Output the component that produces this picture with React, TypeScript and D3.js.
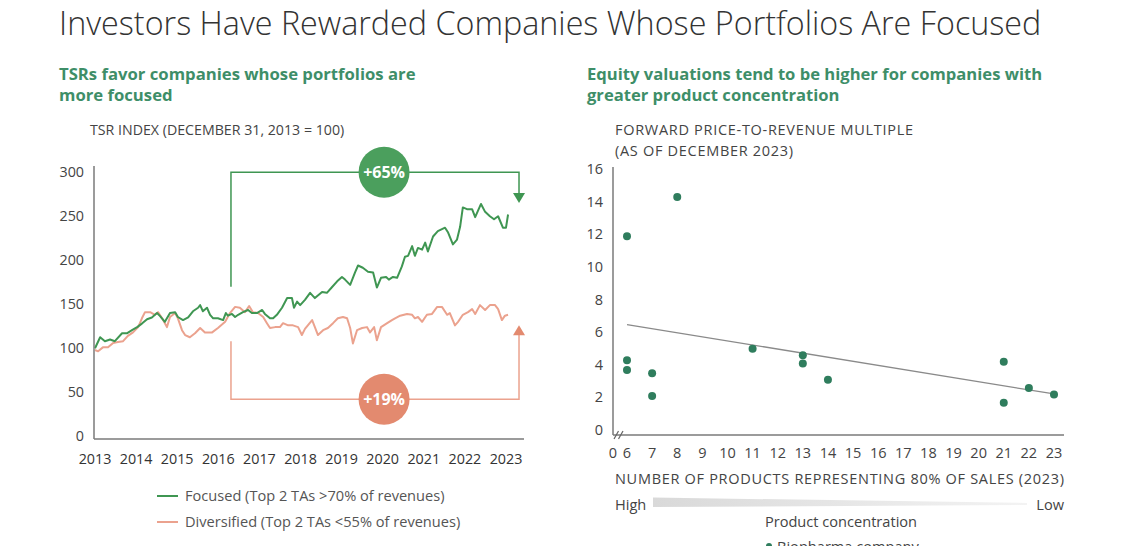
import * as d3 from "d3";

// ---------- left panel: TSR index, months since Dec 31 2013 ----------
const yearTicks = [2013, 2014, 2015, 2016, 2017, 2018, 2019, 2020, 2021, 2022, 2023];
const tsrTicks = [0, 50, 100, 150, 200, 250, 300];

const focusedMonth = [
  0, 1.5, 2.9, 4.4, 5.8, 7.9, 9.3, 10.8, 12.3, 13.7,
  15.2, 16.6, 18.1, 19, 20.4, 21.9, 23.4, 24.2, 25.7, 27.2,
  28.6, 30.1, 30.7, 31.5, 32.7, 33.6, 34.5, 35.9, 37.4, 38.2,
  38.8, 40, 40.9, 41.8, 43.2, 44.7, 45.8, 47.3, 48.8, 49.6,
  51.1, 52, 53.1, 54.6, 56.1, 57.5, 58.1, 59, 59.9, 61.3,
  62.8, 64.2, 66.3, 67.7, 69.1, 70.7, 72.1, 73, 74.5, 75.9,
  76.8, 78.2, 79.7, 81.2, 82.3, 83.5, 85, 85.8, 87, 88.2,
  89.6, 90.5, 91.4, 92.6, 93.4, 94.3, 95.5, 96.4, 97.2, 98.7,
  100.1, 102.2, 103.1, 104.5, 105.7, 106.6, 107.4, 108.6, 110.1, 111,
  112.7, 113.9, 115.3, 116.5, 117.7, 119.1, 120, 120.6,
];
const focusedTsr = [
  102, 114.5, 110, 112, 110, 119, 119, 122.5, 126, 130,
  135, 137, 142, 138.5, 132, 142, 143, 137.5, 134, 137,
  144, 148, 151, 144, 148, 140, 136, 136, 134, 142,
  139, 141, 137.5, 140, 143, 145.5, 142, 142, 145.5, 141,
  136, 136, 140, 148, 159, 159, 148, 155, 151, 157,
  165, 159, 166, 165, 171, 178, 183, 180, 174, 188,
  196, 193.5, 189, 188, 171, 182, 183, 180, 183, 182,
  195, 206, 207, 218, 207, 216, 214, 222, 212, 229,
  235, 239, 233.5, 220, 225.5, 240, 262, 260, 260, 251,
  266, 257, 252, 248.5, 252, 239, 239, 254,
];

const diversifiedMonth = [
  0, 0.9, 2.3, 3.8, 5.3, 6.7, 8.2, 9.6, 11.1, 12.6,
  13.7, 14.6, 16.1, 17.5, 18.4, 19.6, 21, 21.9, 23.4, 24.2,
  25.4, 26.3, 27.7, 29.2, 30.7, 32.1, 34.2, 35.9, 38, 39.4,
  40.9, 42.3, 43.8, 45, 46.1, 47.6, 49.1, 50.2, 51.1, 52.6,
  54, 54.9, 56.4, 57.8, 59.3, 60.4, 61.3, 63.4, 64.2, 65.1,
  66.6, 68, 69.5, 70.9, 72.4, 73.6, 74.5, 75.3, 76.5, 78,
  79.4, 80.3, 81.5, 82.3, 83.5, 85.3, 86.7, 87.6, 89.1, 91.1,
  92.6, 93.4, 94.3, 95.5, 96.9, 98.4, 99.9, 101.3, 102.8, 103.6,
  105.1, 106, 107.4, 108.9, 110.1, 111, 112.4, 113.9, 115.3, 116.8,
  117.7, 118.8, 119.7, 120.6,
];
const diversifiedTsr = [
  100, 98.5, 103, 103, 108, 109, 110, 116, 120, 126,
  136, 143, 143, 140, 143, 136, 126, 137.5, 142, 136,
  122.5, 117, 114.5, 119, 125, 120, 120, 125, 132, 142,
  149, 148, 143, 150, 143, 142, 137.5, 130.5, 125, 126,
  126, 130.5, 128, 128, 126, 117, 124, 134, 126, 117,
  122.5, 125, 130.5, 136, 137.5, 136, 125, 107.5, 122.5, 125,
  126, 120, 126, 111, 126, 130.5, 134, 136, 139, 141,
  140, 136, 137.5, 132, 140, 141, 149, 149, 140, 142,
  128, 132, 140, 143, 146.5, 141, 151, 145.5, 151, 151,
  146.5, 134, 139, 140,
];

// bracket annotations (data space: months, TSR index)
const bracketStartMonth = 39.7;
const bracketEndMonth = 123.8;
const badgeMonth = 84.4;
const focusedBracketTop = 302;
const focusedBracketLow = 172;
const focusedArrowTip = 267;
const diversifiedBracketBottom = 44;
const diversifiedBracketHigh = 110;
const diversifiedArrowTip = 128;

// ---------- right panel: products vs forward P/R multiple ----------
const multipleTicks = [0, 2, 4, 6, 8, 10, 12, 14, 16];
const productTicks = [6, 7, 8, 9, 10, 11, 12, 13, 14, 15, 16, 17, 18, 19, 20, 21, 22, 23];
const productCount = [6, 6, 6, 7, 7, 8, 11, 13, 13, 14, 21, 21, 22, 23];
const priceToRevenue = [12, 4.4, 3.8, 3.6, 2.2, 14.4, 5.1, 4.7, 4.2, 3.2, 4.3, 1.8, 2.7, 2.3];

const GREEN = "#4b9f5d";
const GREEN_LINE = "#3f9652";
const RED = "#e38a6f";
const RED_LINE = "#eba28e";
const TEAL = "#2f7d5d";
const SUB = "#3e8e68";
const TXT = "#444";
const AXIS = "#7a7a7a";
const FONT = "'Open Sans', 'Noto Sans', sans-serif";

export default function App() {
  const width = 1142;
  const height = 546;

  // left scales
  const xL = d3.scaleLinear([0, 120], [95, 506]);
  const yL = d3.scaleLinear([0, 300], [438, 174]);
  const line = d3.line<[number, number]>().x((d) => xL(d[0])).y((d) => yL(d[1]));
  const focused = focusedMonth.map((m, i) => [m, focusedTsr[i]] as [number, number]);
  const diversified = diversifiedMonth.map((m, i) => [m, diversifiedTsr[i]] as [number, number]);

  // right scales
  const xR = d3.scaleLinear([6, 23], [627, 1054]);
  const yR = d3.scaleLinear([0, 16], [432, 171]);

  // least squares trend line
  const mx = d3.mean(productCount)!;
  const my = d3.mean(priceToRevenue)!;
  const slope =
    d3.sum(productCount, (x, i) => (x - mx) * (priceToRevenue[i] - my)) /
    d3.sum(productCount, (x) => (x - mx) ** 2);
  const fit = (x: number) => my + slope * (x - mx);
  const [xMin, xMax] = d3.extent(productCount) as [number, number];

  const bx0 = xL(bracketStartMonth);
  const bx1 = xL(bracketEndMonth);
  const bcx = xL(badgeMonth);

  return (
    <svg
      width={width}
      height={height}
      style={{ position: "absolute", left: 0, top: 0, background: "#fff" }}
      fontFamily={FONT}
    >
      <defs>
        <linearGradient id="conc" x1="0" x2="1" y1="0" y2="0">
          <stop offset="0" stopColor="#d9d9d9" />
          <stop offset="1" stopColor="#f3f3f3" />
        </linearGradient>
      </defs>

      {/* title */}
      <text x={59} y={35} fontSize={32.3} fontWeight={300} fill="#333">
        Investors Have Rewarded Companies Whose Portfolios Are Focused
      </text>

      {/* ---------------- left panel ---------------- */}
      <g fill={SUB} fontSize={16.7} fontWeight={700}>
        <text x={59} y={80}>TSRs favor companies whose portfolios are</text>
        <text x={59} y={101}>more focused</text>
      </g>
      <text x={90} y={135} fontSize={14.2} fill={TXT}>
        TSR INDEX (DECEMBER 31, 2013 = 100)
      </text>

      {/* brackets */}
      <g fill="none" strokeWidth={1.5}>
        <polyline
          stroke={GREEN_LINE}
          points={`${bx0},${yL(focusedBracketLow)} ${bx0},${yL(focusedBracketTop)} ${bx1},${yL(focusedBracketTop)} ${bx1},${yL(focusedArrowTip) - 8}`}
        />
        <polyline
          stroke={RED_LINE}
          points={`${bx0},${yL(diversifiedBracketHigh)} ${bx0},${yL(diversifiedBracketBottom)} ${bx1},${yL(diversifiedBracketBottom)} ${bx1},${yL(diversifiedArrowTip) + 8}`}
        />
      </g>
      <path
        d={`M${bx1 - 6},${yL(focusedArrowTip) - 10}L${bx1 + 6},${yL(focusedArrowTip) - 10}L${bx1},${yL(focusedArrowTip)}Z`}
        fill={GREEN_LINE}
      />
      <path
        d={`M${bx1 - 6},${yL(diversifiedArrowTip) + 10}L${bx1 + 6},${yL(diversifiedArrowTip) + 10}L${bx1},${yL(diversifiedArrowTip)}Z`}
        fill={RED}
      />

      {/* series */}
      <path d={line(diversified) ?? undefined} fill="none" stroke={RED_LINE} strokeWidth={2} strokeLinejoin="round" />
      <path d={line(focused) ?? undefined} fill="none" stroke={GREEN_LINE} strokeWidth={2} strokeLinejoin="round" />

      {/* badges */}
      <circle cx={bcx} cy={yL(focusedBracketTop)} r={25.5} fill={GREEN} />
      <text x={bcx} y={yL(focusedBracketTop)} dy="0.35em" textAnchor="middle" fill="#fff" fontSize={16} fontWeight={700}>
        +65%
      </text>
      <circle cx={bcx} cy={yL(diversifiedBracketBottom)} r={25.5} fill={RED} />
      <text x={bcx} y={yL(diversifiedBracketBottom)} dy="0.35em" textAnchor="middle" fill="#fff" fontSize={16} fontWeight={700}>
        +19%
      </text>

      {/* axes */}
      <g stroke={AXIS} strokeWidth={1.5}>
        <line x1={94} x2={94} y1={166} y2={439} />
        <line x1={94} x2={524} y1={439} y2={439} />
      </g>
      <g fontSize={14.3} fill={TXT} textAnchor="end">
        {tsrTicks.map((t) => (
          <text key={t} x={84} y={yL(t) - 2} dy="0.35em">
            {t}
          </text>
        ))}
      </g>
      <g fontSize={14.3} fill="#333" textAnchor="middle">
        {yearTicks.map((yr) => (
          <text key={yr} x={xL((yr - 2013) * 12)} y={464}>
            {yr}
          </text>
        ))}
      </g>

      {/* legend */}
      <g fontSize={14.6} fill="#555">
        <line x1={157} x2={178} y1={496} y2={496} stroke={GREEN_LINE} strokeWidth={2} />
        <text x={185} y={501}>Focused (Top 2 TAs &gt;70% of revenues)</text>
        <line x1={157} x2={178} y1={522} y2={522} stroke={RED_LINE} strokeWidth={2} />
        <text x={185} y={527}>Diversified (Top 2 TAs &lt;55% of revenues)</text>
      </g>

      {/* ---------------- right panel ---------------- */}
      <g fill={SUB} fontSize={16.6} fontWeight={700}>
        <text x={587} y={80}>Equity valuations tend to be higher for companies with</text>
        <text x={587} y={101}>greater product concentration</text>
      </g>
      <g fontSize={14.5} fill={TXT} letterSpacing={0.7}>
        <text x={615} y={135}>FORWARD PRICE-TO-REVENUE MULTIPLE</text>
        <text x={615} y={156}>(AS OF DECEMBER 2023)</text>
      </g>

      <g stroke={AXIS} strokeWidth={1.5}>
        <line x1={613} x2={613} y1={167} y2={435} />
        <line x1={613} x2={1064} y1={435} y2={435} />
      </g>
      <g stroke="#666" strokeWidth={1.2}>
        <line x1={614} x2={618.5} y1={439} y2={431} />
        <line x1={618.5} x2={623} y1={439} y2={431} />
      </g>
      <g fontSize={14.5} fill={TXT} textAnchor="end">
        {multipleTicks.map((t) => (
          <text key={t} x={603} y={yR(t) - 2} dy="0.35em">
            {t}
          </text>
        ))}
      </g>
      <g fontSize={14.5} fill={TXT} textAnchor="middle">
        <text x={613} y={458}>0</text>
        {productTicks.map((t) => (
          <text key={t} x={xR(t)} y={458}>
            {t}
          </text>
        ))}
      </g>

      <line
        x1={xR(xMin)}
        y1={yR(fit(xMin))}
        x2={xR(xMax)}
        y2={yR(fit(xMax))}
        stroke="#8a8a8a"
        strokeWidth={1.3}
      />
      <g fill={TEAL}>
        {productCount.map((p, i) => (
          <circle key={i} cx={xR(p)} cy={yR(priceToRevenue[i])} r={4} />
        ))}
      </g>

      <text x={615} y={484} fontSize={14.5} fill={TXT} letterSpacing={0.7}>
        NUMBER OF PRODUCTS REPRESENTING 80% OF SALES (2023)
      </text>
      <text x={615} y={510} fontSize={14.6} fill={TXT}>High</text>
      <text x={1064} y={510} fontSize={14.6} fill={TXT} textAnchor="end">Low</text>
      <path d="M653,497.5L1027,503L1027,505L653,507Z" fill="url(#conc)" />
      <text x={841} y={527} fontSize={14.6} fill={TXT} textAnchor="middle">
        Product concentration
      </text>
      <circle cx={769} cy={546} r={3} fill={TEAL} />
      <text x={777} y={552} fontSize={14.6} fill={TXT}>
        Biopharma company
      </text>
    </svg>
  );
}
